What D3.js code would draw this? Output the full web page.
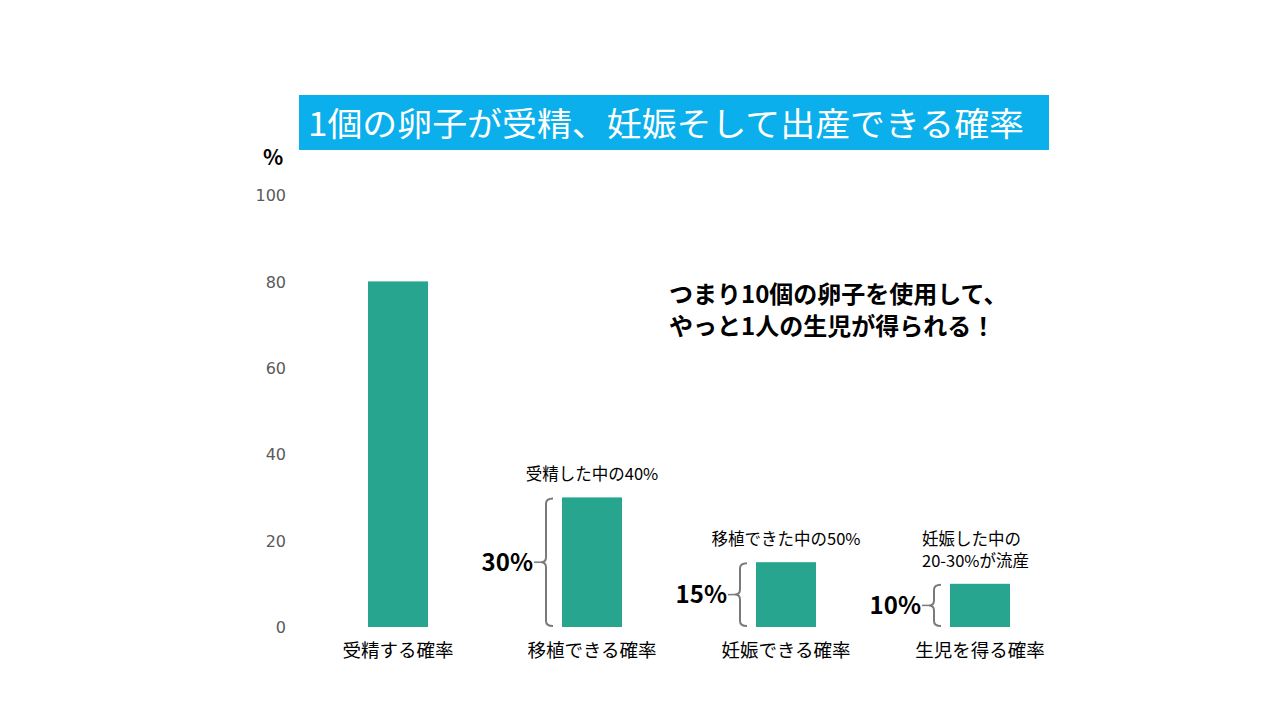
<!DOCTYPE html>
<html>
<head>
<meta charset="utf-8">
<script src="https://cdn.jsdelivr.net/npm/d3@7"></script>
<style>
  body { margin: 0; background: #fff; }
  svg { font-family: 'Noto Sans CJK JP', sans-serif; }
</style>
</head>
<body>
<svg width="1280" height="720"></svg>
<script>
const svg = d3.select('svg');

const categories = ['受精する確率', '移植できる確率', '妊娠できる確率', '生児を得る確率'];
const values = [80, 30, 15, 10];
const valueLabels = [null, '30%', '15%', '10%'];
const notes = [null, ['受精した中の40%'], ['移植できた中の50%'], ['妊娠した中の', '20-30%が流産']];
const yTicks = [0, 20, 40, 60, 80, 100];
const title = '1個の卵子が受精、妊娠そして出産できる確率';
const message = ['つまり10個の卵子を使用して、', 'やっと1人の生児が得られる！'];

const barColor = '#27a58f';

const x = d3.scalePoint()
  .domain(categories)
  .range([398, 980]);

const y = d3.scaleLinear()
  .domain([0, 100])
  .range([627, 195]);

const barWidth = 60;

// title banner
svg.append('rect')
  .attr('x', 299).attr('y', 95)
  .attr('width', 750).attr('height', 55)
  .attr('fill', '#0aafec');
svg.append('text')
  .attr('x', 308).attr('y', 136)
  .attr('fill', 'white')
  .attr('font-size', 33)
  .attr('textLength', 716)
  .attr('lengthAdjust', 'spacingAndGlyphs')
  .text(title);

// y axis (labels only)
const yAxis = d3.axisLeft(y)
  .tickValues(yTicks)
  .tickSize(0)
  .tickPadding(0);
const yAxisG = svg.append('g')
  .attr('transform', 'translate(286, 0)')
  .call(yAxis);
yAxisG.select('.domain').remove();
yAxisG.selectAll('text')
  .attr('font-family', 'DejaVu Sans, sans-serif')
  .attr('font-size', 16)
  .attr('fill', '#5a5a5a')
  .attr('dy', '0.35em');

svg.append('text')
  .attr('x', 273).attr('y', 165)
  .attr('text-anchor', 'middle')
  .attr('font-size', 21)
  .attr('font-weight', 'bold')
  .text('%');

// bars
svg.selectAll('rect.bar')
  .data(values)
  .enter()
  .append('rect')
    .attr('class', 'bar')
    .attr('x', (d, i) => x(categories[i]) - barWidth / 2)
    .attr('y', d => y(d))
    .attr('width', barWidth)
    .attr('height', d => y(0) - y(d))
    .attr('fill', barColor);

// category labels
svg.selectAll('text.cat')
  .data(categories)
  .enter()
  .append('text')
    .attr('class', 'cat')
    .attr('x', d => x(d))
    .attr('y', 657)
    .attr('text-anchor', 'middle')
    .attr('font-size', 18.5)
    .text(d => d);

// braces with value labels
const braceG = svg.append('g');
values.forEach((v, i) => {
  if (!valueLabels[i]) return;
  const bx = x(categories[i]) - barWidth / 2 - 16;
  const y0 = y(v) + 1;
  const y1 = y(0) - 1;
  const mid = (y0 + y1) / 2;
  const r = 5;
  const path = `M${bx + 7},${y0} Q${bx},${y0} ${bx},${y0 + r}`
    + ` L${bx},${mid - r} Q${bx},${mid} ${bx - 5},${mid}`
    + ` Q${bx},${mid} ${bx},${mid + r}`
    + ` L${bx},${y1 - r} Q${bx},${y1} ${bx + 7},${y1}`;
  braceG.append('path')
    .attr('d', path)
    .attr('fill', 'none')
    .attr('stroke', '#7a7a7a')
    .attr('stroke-width', 2);
  braceG.append('line')
    .attr('x1', bx - 12).attr('x2', bx - 5)
    .attr('y1', mid).attr('y2', mid)
    .attr('stroke', '#7a7a7a')
    .attr('stroke-width', 1.5);
  braceG.append('text')
    .attr('x', bx - 13)
    .attr('y', mid)
    .attr('dy', '0.36em')
    .attr('text-anchor', 'end')
    .attr('font-size', 24)
    .attr('font-weight', 'bold')
    .text(valueLabels[i]);
});

// notes above bars
const noteAnchors = ['middle', 'middle', 'middle', 'start'];
notes.forEach((lines, i) => {
  if (!lines) return;
  const cx = x(categories[i]);
  const top = y(values[i]) - 16 - (lines.length - 1) * 22;
  lines.forEach((line, j) => {
    svg.append('text')
      .attr('x', noteAnchors[i] === 'start' ? cx - 58 : cx)
      .attr('y', top + j * 22 - 1)
      .attr('text-anchor', noteAnchors[i])
      .attr('font-size', 16.5)
      .text(line);
  });
});

// summary message
svg.selectAll('text.msg')
  .data(message)
  .enter()
  .append('text')
    .attr('class', 'msg')
    .attr('x', 669)
    .attr('y', (d, i) => 303 + i * 32)
    .attr('font-size', 24)
    .attr('font-weight', 'bold')
    .text(d => d);
</script>
</body>
</html>
